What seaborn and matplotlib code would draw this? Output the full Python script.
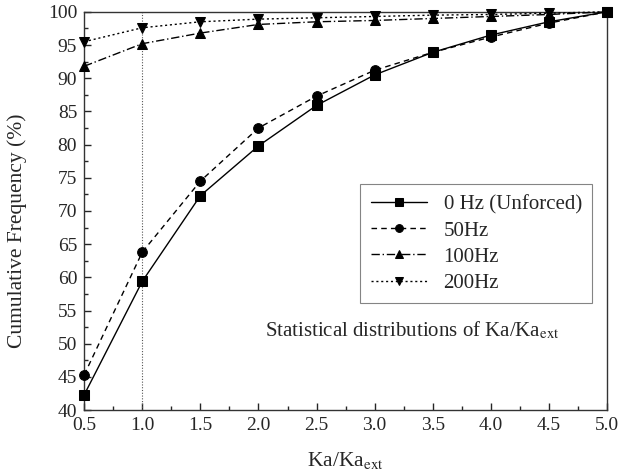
import pandas as pd
import matplotlib
matplotlib.use("Agg")
import matplotlib.pyplot as plt
import seaborn as sns
from matplotlib.ticker import MultipleLocator

# Data
ka_ratio = [0.5, 1.0, 1.5, 2.0, 2.5, 3.0, 3.5, 4.0, 4.5, 5.0]
freq_0hz = [42.3, 59.4, 72.3, 79.8, 85.9, 90.5, 93.9, 96.5, 98.5, 100.0]
freq_50hz = [45.3, 63.8, 74.5, 82.5, 87.3, 91.2, 93.9, 96.2, 98.3, 100.0]
freq_100hz = [91.8, 95.2, 96.8, 98.1, 98.5, 98.7, 99.0, 99.3, 99.6, 100.0]
freq_200hz = [95.5, 97.6, 98.5, 98.9, 99.1, 99.3, 99.5, 99.6, 99.8, 100.0]
series_names = ["0 Hz (Unforced)", "50Hz", "100Hz", "200Hz"]

sns.set_style("ticks")
plt.rcParams["font.family"] = ["Liberation Serif", "DejaVu Serif"]
plt.rcParams["mathtext.fontset"] = "stix"

df = pd.DataFrame({
    "x": ka_ratio * 4,
    "y": freq_0hz + freq_50hz + freq_100hz + freq_200hz,
    "series": [n for n in series_names for _ in ka_ratio],
})

fig = plt.figure(figsize=(6.33, 4.73), dpi=100)
ax = fig.add_axes([0.133, 0.133, 0.826, 0.842])

styles = {
    "0 Hz (Unforced)": ("-", "s"),
    "50Hz": ((0, (4, 3)), "o"),
    "100Hz": ((0, (6, 2, 1, 2)), "^"),
    "200Hz": ((0, (1.5, 2)), "v"),
}

ax.axvline(1.0, color="#555555", lw=0.8, ls=(0, (1, 1.5)), zorder=1)

for name in series_names:
    ls, mk = styles[name]
    sns.lineplot(data=df[df["series"] == name], x="x", y="y", ax=ax,
                 color="black", lw=1.0, linestyle=ls, marker=mk,
                 markersize=7, markeredgecolor="black", label=name,
                 clip_on=False, zorder=3)

ax.set_xlim(0.5, 5.0)
ax.set_ylim(40, 100)
ax.xaxis.set_major_locator(MultipleLocator(0.5))
ax.xaxis.set_minor_locator(MultipleLocator(0.25))
ax.yaxis.set_major_locator(MultipleLocator(5))
ax.yaxis.set_minor_locator(MultipleLocator(2.5))
ax.xaxis.set_major_formatter(matplotlib.ticker.FormatStrFormatter("%.1f"))
ax.tick_params(which="major", direction="in", length=5, width=1.0, labelsize=14, pad=5)
ax.tick_params(which="minor", direction="in", length=3, width=1.0)
for s in ax.spines.values():
    s.set_linewidth(1.0)
    s.set_color("#333333")

ax.set_xlabel(r"Ka/Ka$_{\rm ext}$", fontsize=15.5)
ax.set_ylabel("Cumulative Frequency (%)", fontsize=15.5)
ax.xaxis.set_label_coords(0.5, -0.1)
ax.yaxis.set_label_coords(-0.11, 0.45)

leg = ax.legend(loc="upper left", bbox_to_anchor=(0.528, 0.567), fontsize=15,
                frameon=True, fancybox=False, edgecolor="#666666",
                handlelength=2.7, borderpad=0.5, labelspacing=0.32,
                borderaxespad=0, markerscale=0.8)
leg.get_frame().set_linewidth(0.8)

ax.text(0.345, 0.2, r"Statistical distributions of Ka/Ka$_{\rm ext}$",
        transform=ax.transAxes, fontsize=15, va="center", ha="left")

fig.savefig("out.png", dpi=100)
